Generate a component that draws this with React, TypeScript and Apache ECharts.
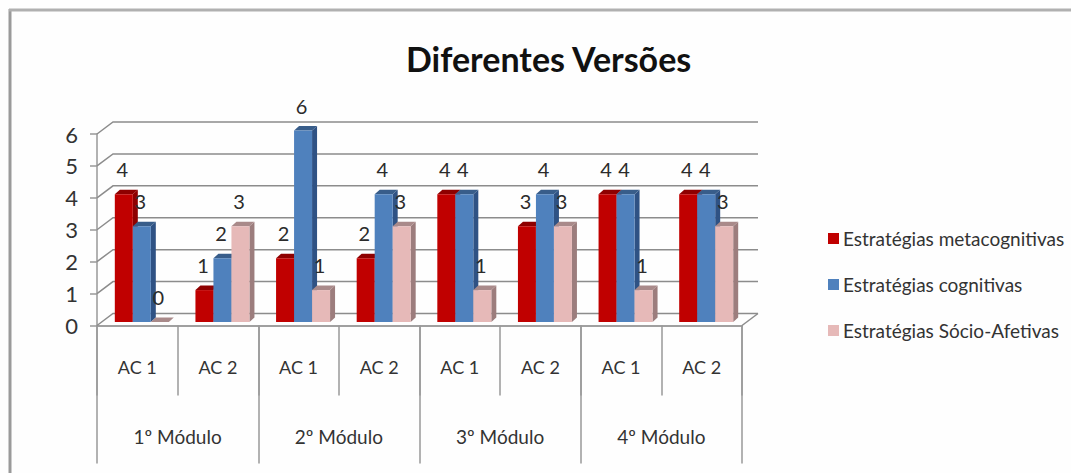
import React, { useEffect, useRef } from "react";
import * as echarts from "echarts";

const titleText = "Diferentes Versões";
const acLabels = ["AC 1", "AC 2", "AC 1", "AC 2", "AC 1", "AC 2", "AC 1", "AC 2"];
const moduleLabels = ["1º Módulo", "2º Módulo", "3º Módulo", "4º Módulo"];
const yTicks = [0, 1, 2, 3, 4, 5, 6];
const metacognitivas = [4, 1, 2, 2, 4, 3, 4, 4];
const cognitivas = [3, 2, 6, 4, 4, 4, 4, 4];
const socioAfetivas = [0, 3, 1, 3, 1, 3, 1, 3];
const seriesNames = ["Estratégias metacognitivas", "Estratégias cognitivas", "Estratégias Sócio-Afetivas"];
const FONT = "Lato";
const DEPTH_X = 5, DEPTH_Y = 4.5, BAR_W = 18, WALL_X = 16, WALL_Y = 12;
const palette = [
  { front: "#C00000", top: "#8E0000", side: "#8E0000" },
  { front: "#4F81BD", top: "#385D8A", side: "#2F5284" },
  { front: "#E6B9B8", top: "#A98A8A", side: "#9C7D7D" },
];

const barRenderer = (si: number) => (params: any, api: any) => {
  const idx = api.value(0), val = api.value(1);
  const base = api.coord([idx, 0]);
  const top = api.coord([idx, val]);
  const x = base[0] + 4.5 + (si - 1.5) * BAR_W;
  const y0 = base[1] - 3.5, y1 = top[1] - 3.5;
  const c = palette[si];
  return {
    type: "group",
    children: [
      { type: "polygon", shape: { points: [[x + BAR_W, y1], [x + BAR_W + DEPTH_X, y1 - DEPTH_Y], [x + BAR_W + DEPTH_X, y0 - DEPTH_Y], [x + BAR_W, y0]] }, style: { fill: c.side } },
      { type: "polygon", shape: { points: [[x, y1], [x + DEPTH_X, y1 - DEPTH_Y], [x + BAR_W + DEPTH_X, y1 - DEPTH_Y], [x + BAR_W, y1]] }, style: { fill: c.top } },
      { type: "rect", shape: { x, y: y1, width: BAR_W, height: y0 - y1 }, style: { fill: c.front } },
      { type: "text", z2: 100, style: { x: x + BAR_W / 2 - 1.5, y: y1 - 25, text: String(val), fill: "#2b2b2b", font: `20px ${FONT}`, align: "center", verticalAlign: "middle" } },
    ],
  };
};

const wallRenderer = (params: any, api: any) => {
  const v = api.value(0);
  const left = api.coord([0, v]);
  const bw = api.size([1, 0])[0];
  const x0 = left[0] - bw / 2;
  const y0 = left[1];
  const x1 = x0 + bw * 8;
  const stroke = { stroke: "#8c8c8c", lineWidth: 1.5, fill: "none" };
  const children: any[] = [
    { type: "polyline", shape: { points: [[x0, y0], [x0 + WALL_X, y0 - WALL_Y], [x1 + WALL_X, y0 - WALL_Y]] }, style: stroke },
  ];
  if (v === 0) {
    children.push({ type: "line", shape: { x1, y1: y0, x2: x1 + WALL_X, y2: y0 - WALL_Y }, style: stroke });
  }
  return { type: "group", children };
};

export default function App() {
  const ref = useRef<HTMLDivElement>(null);
  useEffect(() => {
    const chart = echarts.init(ref.current!, undefined, { renderer: "svg" });
    const values = [metacognitivas, cognitivas, socioAfetivas];
    chart.setOption({
      animation: false,
      backgroundColor: "#fefefe",
      title: {
        text: titleText,
        left: 401,
        top: 36,
        textStyle: { fontFamily: FONT, fontSize: 34, fontWeight: "bold", color: "#111" },
      },
      legend: {
        orient: "vertical",
        left: 823,
        top: 224,
        itemWidth: 11,
        itemHeight: 11,
        itemGap: 27,
        icon: "rect",
        data: seriesNames,
        textStyle: { fontFamily: FONT, fontSize: 19, color: "#333", padding: [0, 0, 0, -1] },
      },
      grid: { left: 97, top: 134, width: 645, height: 191.5, containLabel: false },
      xAxis: [
        {
          type: "category",
          data: acLabels,
          position: "bottom",
          axisLine: { lineStyle: { color: "#a0a0a0", width: 2 } },
          axisTick: { show: true, interval: 0, length: 70, lineStyle: { color: "#999", width: 1.5 } },
          axisLabel: { interval: 0, margin: 32, fontFamily: FONT, fontSize: 18, color: "#333" },
        },
        {
          type: "category",
          data: moduleLabels,
          position: "bottom",
          axisLine: { show: false },
          axisTick: { show: true, interval: 0, length: 138, lineStyle: { color: "#999", width: 1.5 } },
          axisLabel: { interval: 0, margin: 101, fontFamily: FONT, fontSize: 19, color: "#333" },
        },
      ],
      yAxis: {
        type: "value",
        min: 0,
        max: 6,
        interval: 1,
        axisLine: { show: true, lineStyle: { color: "#999", width: 1.5 } },
        axisTick: { show: true, length: 7, lineStyle: { color: "#999", width: 1.5 } },
        splitLine: { show: false },
        axisLabel: { margin: 19, fontFamily: FONT, fontSize: 22, color: "#333" },
      },
      graphic: [
        { type: "line", silent: true, shape: { x1: 10, y1: 9, x2: 10, y2: 473 }, style: { stroke: "#9a9a9a", lineWidth: 3 } },
        { type: "line", silent: true, shape: { x1: 9, y1: 10, x2: 1071, y2: 10 }, style: { stroke: "#b0b0b0", lineWidth: 3 } },
      ],
      series: [
        {
          type: "custom",
          name: "wall",
          silent: true,
          z: 1,
          xAxisIndex: 0,
          data: yTicks.map((v) => [v]),
          encode: { y: 0 },
          renderItem: wallRenderer,
        },
        ...seriesNames.map((name, si) => ({
          type: "custom",
          name,
          z: 3,
          xAxisIndex: 0,
          itemStyle: { color: palette[si].front },
          data: values[si].map((v, i) => [i, v]),
          encode: { x: 0, y: 1 },
          renderItem: barRenderer(si),
        })),
      ],
    });
    return () => chart.dispose();
  }, []);
  return <div ref={ref} style={{ position: "absolute", left: 0, top: 0, width: 1071, height: 473 }} />;
}
